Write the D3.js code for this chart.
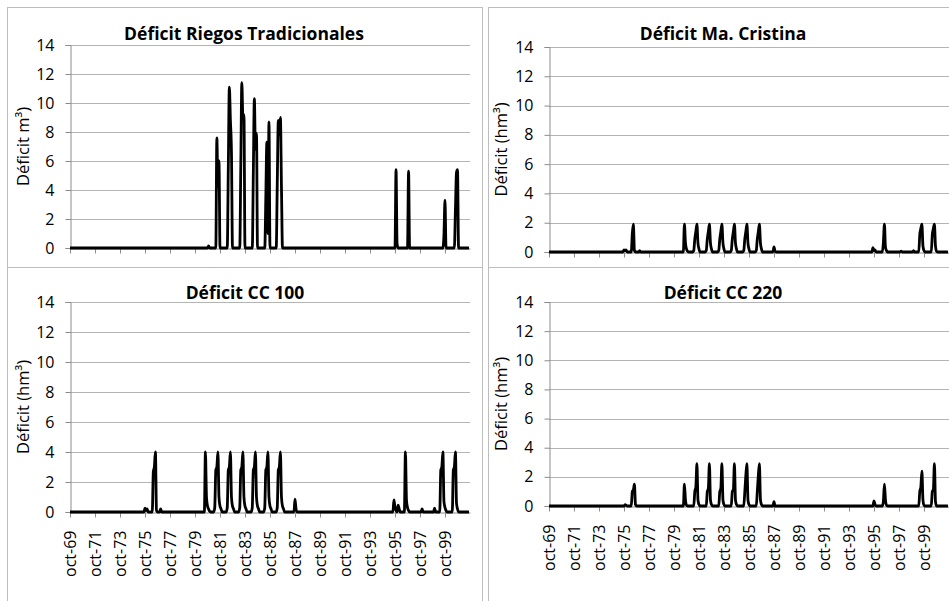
<!DOCTYPE html>
<html>
<head>
<meta charset="utf-8">
<script src="https://cdn.jsdelivr.net/npm/d3@7"></script>
<style>
  body { margin: 0; background: #fff; }
  svg { display: block; font-family: "Open Sans", sans-serif; }
</style>
</head>
<body>
<div id="chart"></div>
<script>
// monthly series, month 0 = oct-69, 384 months (to sep-01)
const startMonth = new Date(1969, 9, 1);
const nMonths = 384;

const tickYears = [1969, 1971, 1973, 1975, 1977, 1979, 1981, 1983, 1985, 1987, 1989, 1991, 1993, 1995, 1997, 1999];
const yTicks = [0, 2, 4, 6, 8, 10, 12, 14];

// [month index, deficit] ; every other month is 0
const riegosDeficit = [
  [133, 0.15],
  [141, 7.6], [142, 4.2], [143, 6.0],
  [152, 5.6], [153, 11.1], [154, 8.8], [155, 6.6],
  [164, 5.7], [165, 11.4], [166, 9.0], [167, 9.2],
  [176, 5.2], [177, 10.3], [178, 6.8], [179, 7.9],
  [188, 3.5], [189, 7.3], [190, 1.0], [191, 8.7],
  [199, 4.4], [200, 8.8], [201, 7.8], [202, 9.0], [203, 4.2],
  [313, 5.4], [314, 0.3],
  [325, 5.3],
  [359, 0.9], [360, 3.3],
  [370, 2.6], [371, 5.2], [372, 5.4]
];

const cristinaDeficit = [
  [72, 0.15], [73, 0.1], [74, 0.15],
  [80, 1.3], [81, 1.9], [82, 0.1], [87, 0.1],
  [130, 1.9], [131, 0.6], [132, 0.2], [133, 0.05],
  [139, 0.1], [140, 0.9], [141, 1.4], [142, 1.9], [143, 0.6], [144, 0.2],
  [151, 0.1], [152, 0.9], [153, 1.4], [154, 1.9], [155, 0.6], [156, 0.2],
  [163, 0.1], [164, 0.9], [165, 1.4], [166, 1.9], [167, 0.6], [168, 0.2],
  [175, 0.1], [176, 0.9], [177, 1.4], [178, 1.9], [179, 0.6], [180, 0.2],
  [187, 0.1], [188, 0.9], [189, 1.4], [190, 1.9], [191, 0.6], [192, 0.2],
  [199, 0.1], [200, 0.9], [201, 1.4], [202, 1.9], [203, 0.6], [204, 0.2],
  [216, 0.35], [217, 0.05],
  [311, 0.3], [312, 0.1], [313, 0.15],
  [321, 0.6], [322, 1.9], [323, 0.3], [324, 0.1],
  [338, 0.05], [350, 0.1],
  [356, 1.2], [357, 1.6], [358, 1.9], [359, 0.4], [360, 0.1],
  [368, 1.2], [369, 1.6], [370, 1.9], [371, 0.4], [372, 0.05]
];

const cc100Deficit = [
  [72, 0.25], [73, 0.1], [74, 0.2],
  [80, 2.7], [81, 3.0], [82, 4.0], [83, 0.1], [87, 0.2],
  [130, 4.0], [131, 1.0], [132, 0.4], [133, 0.2], [134, 0.05],
  [139, 0.3], [140, 2.8], [141, 3.0], [142, 4.0], [143, 1.0], [144, 0.4], [145, 0.2],
  [151, 0.3], [152, 2.8], [153, 3.0], [154, 4.0], [155, 1.0], [156, 0.4], [157, 0.2],
  [163, 0.3], [164, 2.8], [165, 3.0], [166, 4.0], [167, 1.0], [168, 0.4], [169, 0.2],
  [175, 0.3], [176, 2.8], [177, 3.0], [178, 4.0], [179, 1.0], [180, 0.4], [181, 0.2],
  [187, 0.3], [188, 2.8], [189, 3.0], [190, 4.0], [191, 1.0], [192, 0.4], [193, 0.2],
  [199, 0.3], [200, 2.8], [201, 3.0], [202, 4.0], [203, 1.0], [204, 0.4], [205, 0.2],
  [216, 0.85], [217, 0.2],
  [311, 0.8], [312, 0.3], [313, 0.1], [315, 0.45], [316, 0.2],
  [322, 4.0], [323, 0.8], [324, 0.3], [325, 0.1],
  [338, 0.2], [350, 0.25],
  [356, 2.8], [357, 3.0], [358, 4.0], [359, 0.7], [360, 0.3], [361, 0.1],
  [368, 2.8], [369, 3.0], [370, 4.0], [371, 0.6], [372, 0.2]
];

const cc220Deficit = [
  [73, 0.1], [74, 0.05],
  [80, 1.0], [81, 1.1], [82, 1.5], [83, 0.1],
  [130, 1.5], [131, 0.4], [132, 0.05],
  [140, 1.0], [141, 1.3], [142, 2.9], [143, 0.4], [144, 0.1],
  [152, 1.0], [153, 1.2], [154, 2.9], [155, 0.4], [156, 0.1],
  [164, 1.0], [165, 1.2], [166, 2.9], [167, 0.4], [168, 0.1],
  [176, 1.0], [177, 1.1], [178, 2.9], [179, 0.4], [180, 0.1],
  [188, 1.0], [189, 2.1], [190, 2.9], [191, 0.4], [192, 0.1],
  [200, 1.0], [201, 2.1], [202, 2.9], [203, 0.4], [204, 0.1],
  [216, 0.3],
  [312, 0.35], [313, 0.1],
  [321, 0.3], [322, 1.5], [323, 0.4], [324, 0.05],
  [356, 1.0], [357, 1.3], [358, 2.4], [359, 0.4], [360, 0.05],
  [368, 1.0], [369, 1.1], [370, 2.9], [371, 0.3]
];

const titles = ["Déficit Riegos Tradicionales", "Déficit Ma. Cristina", "Déficit CC 100", "Déficit CC 220"];
const yLabels = ["Déficit m³)", "Déficit (hm³)", "Déficit (hm³)", "Déficit (hm³)"];

// layout of the four chart boxes
const panels = [
  {data: riegosDeficit,   box: [7, 7, 475, 260],   left: 70,  top: 45,  bottom: 248, titleX: 244, titleY: 40,  labX: 29,  xLabels: false},
  {data: cristinaDeficit, box: [488, 7, 475, 260], left: 549, top: 47,  bottom: 252, titleX: 723, titleY: 40,  labX: 507, xLabels: false},
  {data: cc100Deficit,    box: [7, 267, 475, 350], left: 70,  top: 302, bottom: 512, titleX: 245, titleY: 299, labX: 29,  xLabels: true},
  {data: cc220Deficit,    box: [488, 267, 475, 350], left: 549, top: 302, bottom: 506, titleX: 723, titleY: 299, labX: 507, xLabels: true}
];

const W = 949, H = 601, plotW = 400;

function fullSeries(pairs) {
  const vals = new Array(nMonths).fill(0);
  pairs.forEach(function(p) { vals[p[0]] = p[1]; });
  return vals.map(function(v, i) { return {date: d3.timeMonth.offset(startMonth, i), value: v}; });
}

const svg = d3.select("#chart").append("svg")
  .attr("width", W).attr("height", H);

const tickDates = tickYears.map(function(y) { return new Date(y, 9, 1); });

panels.forEach(function(p, k) {
  const g = svg.append("g");

  g.append("rect")
    .attr("x", p.box[0] + 0.5).attr("y", p.box[1] + 0.5)
    .attr("width", p.box[2]).attr("height", p.box[3])
    .attr("fill", "#fff").attr("stroke", "#bdbdbd").attr("stroke-width", 1);

  var x = d3.scaleTime()
    .domain([startMonth, d3.timeMonth.offset(startMonth, nMonths)])
    .range([p.left, p.left + plotW]);
  var y = d3.scaleLinear().domain([0, 14]).range([p.bottom, p.top]);

  // gridlines
  g.append("g").selectAll("line")
    .data(yTicks.filter(function(t) { return t > 0; }))
    .enter().append("line")
    .attr("x1", p.left).attr("x2", p.left + plotW)
    .attr("y1", function(d) { return Math.round(y(d)) + 0.5; })
    .attr("y2", function(d) { return Math.round(y(d)) + 0.5; })
    .attr("stroke", "#b4b4b4").attr("stroke-width", 1);

  // y axis
  var yAxis = g.append("g")
    .attr("transform", "translate(" + (p.left + 0.5) + ",0)")
    .call(d3.axisLeft(y).tickValues(yTicks).tickSize(5).tickPadding(11).tickFormat(d3.format("d")));
  yAxis.selectAll("path, line").attr("stroke", "#8c8c8c");
  yAxis.selectAll("text").attr("fill", "#000").style("font-size", "16px").style("font-family", "Open Sans");

  // x axis
  var xAxis = g.append("g")
    .attr("transform", "translate(0," + (Math.round(p.bottom) + 0.5) + ")")
    .call(d3.axisBottom(x).tickValues(tickDates).tickSize(5).tickSizeOuter(0)
      .tickFormat(function(d) { return "oct-" + d3.timeFormat("%y")(d); }));
  xAxis.selectAll("path, line").attr("stroke", "#8c8c8c");
  if (p.xLabels) {
    xAxis.selectAll("text")
      .attr("fill", "#000")
      .style("font-size", "16px").style("font-family", "Open Sans")
      .attr("text-anchor", "end")
      .attr("transform", "rotate(-90)")
      .attr("x", -18).attr("y", 0).attr("dy", "0.35em");
  } else {
    xAxis.selectAll("text").remove();
  }

  // series line
  var line = d3.line()
    .x(function(d) { return x(d.date); })
    .y(function(d) { return y(d.value); })
    .curve(d3.curveMonotoneX);
  g.append("path")
    .datum(fullSeries(p.data))
    .attr("d", line)
    .attr("fill", "none")
    .attr("stroke", "#000")
    .attr("stroke-width", 2.8)
    .attr("stroke-linejoin", "round");

  // title
  g.append("text")
    .attr("x", p.titleX).attr("y", p.titleY)
    .attr("text-anchor", "middle")
    .style("font-size", "17.5px").style("font-weight", "bold")
    .text(titles[k]);

  // y label
  g.append("text")
    .attr("transform", "translate(" + p.labX + "," + ((p.top + p.bottom) / 2) + ") rotate(-90)")
    .attr("text-anchor", "middle")
    .style("font-size", "16.5px")
    .text(yLabels[k]);
});
</script>
</body>
</html>
